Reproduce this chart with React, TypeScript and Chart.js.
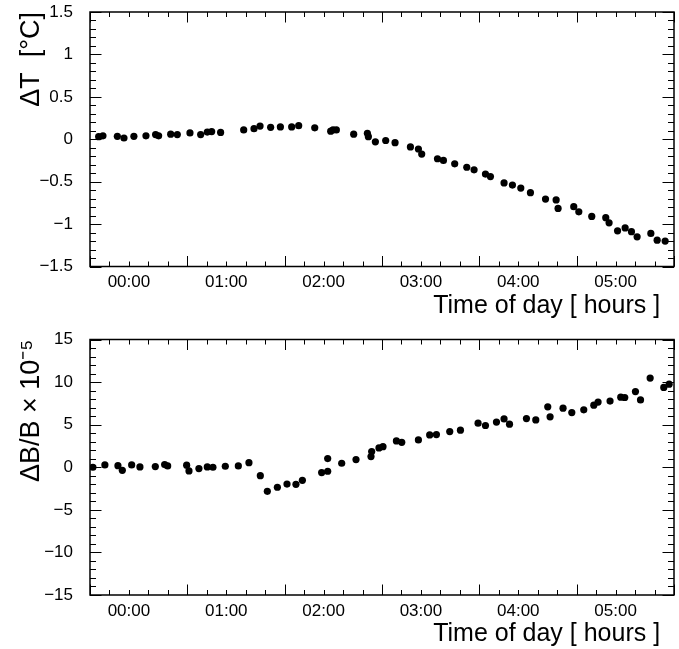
import React, { useEffect, useRef } from "react";
import { Chart, registerables } from "chart.js";

Chart.register(...registerables);

// ---------- data ----------
const tempHours = [-0.311, -0.267, -0.119, -0.051, 0.051, 0.175, 0.274, 0.305, 0.429, 0.497, 0.627, 0.737, 0.805, 0.85, 0.942, 1.179, 1.285, 1.347, 1.456, 1.556, 1.672, 1.744, 1.909, 2.073, 2.097, 2.131, 2.309, 2.45, 2.46, 2.532, 2.638, 2.734, 2.892, 2.974, 3.008, 3.17, 3.231, 3.347, 3.471, 3.546, 3.663, 3.714, 3.854, 3.94, 4.026, 4.125, 4.28, 4.389, 4.409, 4.57, 4.622, 4.755, 4.899, 4.933, 5.02, 5.098, 5.163, 5.221, 5.362, 5.427, 5.509];
const deltaT = [0.03, 0.04, 0.035, 0.015, 0.035, 0.04, 0.055, 0.04, 0.06, 0.055, 0.075, 0.055, 0.085, 0.09, 0.08, 0.11, 0.125, 0.155, 0.14, 0.145, 0.145, 0.16, 0.135, 0.095, 0.11, 0.11, 0.06, 0.07, 0.03, -0.03, -0.015, -0.04, -0.09, -0.115, -0.175, -0.23, -0.25, -0.29, -0.33, -0.36, -0.41, -0.44, -0.515, -0.54, -0.575, -0.63, -0.705, -0.715, -0.815, -0.795, -0.855, -0.91, -0.925, -0.985, -1.08, -1.045, -1.09, -1.15, -1.11, -1.19, -1.2];

const fieldHours = [-0.37, -0.247, -0.113, -0.068, 0.028, 0.113, 0.271, 0.367, 0.398, 0.593, 0.617, 0.719, 0.805, 0.863, 0.99, 1.124, 1.233, 1.35, 1.422, 1.525, 1.624, 1.716, 1.782, 1.98, 2.042, 2.042, 2.186, 2.333, 2.487, 2.494, 2.569, 2.61, 2.748, 2.803, 2.974, 3.09, 3.159, 3.296, 3.406, 3.587, 3.663, 3.776, 3.854, 3.91, 4.084, 4.18, 4.303, 4.327, 4.46, 4.55, 4.673, 4.776, 4.82, 4.943, 5.053, 5.094, 5.204, 5.256, 5.355, 5.495, 5.55];
const deltaB = [0, 0.27, 0.19, -0.36, 0.27, 0.04, 0.08, 0.31, 0.16, 0.24, -0.43, -0.16, 0.04, 0, 0.12, 0.16, 0.54, -0.99, -2.83, -2.35, -1.97, -2.0, -1.53, -0.63, -0.47, 1.02, 0.47, 0.9, 1.25, 1.84, 2.27, 2.42, 3.09, 2.93, 3.21, 3.8, 3.84, 4.19, 4.35, 5.18, 4.9, 5.3, 5.68, 5.06, 5.72, 5.56, 7.09, 5.92, 6.94, 6.42, 6.74, 7.29, 7.65, 7.77, 8.23, 8.19, 8.89, 7.91, 10.47, 9.37, 9.76];

const timeLabels = ["00:00", "01:00", "02:00", "03:00", "04:00", "05:00"];
const tempTickLabels = ["\u22121.5", "\u22121", "\u22120.5", "0", "0.5", "1", "1.5"];
const fieldTickLabels = ["\u221215", "\u221210", "\u22125", "0", "5", "10", "15"];

const xMin = -0.4;
const xMax = 5.6;
const xStep = 0.2;
const xMajorOffset = 0.6;

const FONT = "'Liberation Sans', Arial, Helvetica, sans-serif";

const isMajorX = (v: number) => {
  const r = (((v - xMajorOffset) % 1) + 1) % 1;
  return r < 1e-4 || r > 1 - 1e-4;
};

const frameTicks = {
  id: "frameTicks",
  beforeDatasetsDraw(chart: any) {
    const { ctx, chartArea } = chart;
    const { left, right, top, bottom } = chartArea;
    const xs = chart.scales.x;
    const ys = chart.scales.y;
    ctx.save();
    ctx.strokeStyle = "#000";
    ctx.lineWidth = 1;
    ctx.beginPath();
    xs.ticks.forEach((t: any) => {
      const px = Math.round(xs.getPixelForValue(t.value)) + 0.5;
      const len = isMajorX(t.value) ? 10.5 : 5;
      ctx.moveTo(px, bottom);
      ctx.lineTo(px, bottom - len);
      ctx.moveTo(px, top);
      ctx.lineTo(px, top + len);
    });
    ys.ticks.forEach((t: any) => {
      const py = Math.round(ys.getPixelForValue(t.value)) + 0.5;
      const major = t.label !== "" && t.label !== undefined;
      const len = major ? 11.5 : 6;
      ctx.moveTo(left, py);
      ctx.lineTo(left + len, py);
      ctx.moveTo(right, py);
      ctx.lineTo(right - len, py);
    });
    ctx.stroke();
    ctx.lineWidth = 1.5;
    ctx.strokeRect(left, top, right - left, bottom - top);
    ctx.restore();
  },
};

type PanelProps = {
  top: number;
  height: number;
  padTop: number;
  xAxisHeight: number;
  xs: number[];
  ys: number[];
  yMin: number;
  yMax: number;
  yStep: number;
  yMajorStep: number;
  yLabels: string[];
  yTitle: string;
  xTitlePad: number;
};

function Panel(p: PanelProps) {
  const ref = useRef<HTMLCanvasElement | null>(null);
  useEffect(() => {
    if (!ref.current) return;
    const points = p.xs.map((x, i) => ({ x, y: p.ys[i] }));
    const chart = new Chart(ref.current, {
      type: "scatter",
      data: {
        datasets: [
          {
            data: points,
            pointRadius: 3.6,
            pointBackgroundColor: "#000",
            pointBorderWidth: 0,
            showLine: false,
          },
        ],
      },
      plugins: [frameTicks],
      options: {
        animation: false,
        responsive: false,
        devicePixelRatio: 1,
        layout: { autoPadding: false, padding: { top: p.padTop, right: 5, left: 0, bottom: 0 } },
        plugins: { legend: { display: false }, tooltip: { enabled: false } },
        scales: {
          x: {
            type: "linear",
            min: xMin,
            max: xMax,
            grid: { display: false, drawTicks: false },
            border: { display: false },
            afterFit: (s: any) => {
              s.height = p.xAxisHeight;
              s.paddingLeft = 0;
              s.paddingRight = 0;
              s.paddingTop = 0;
              s.paddingBottom = 0;
            },
            ticks: {
              stepSize: xStep,
              autoSkip: false,
              maxRotation: 0,
              minRotation: 0,
              padding: 6,
              color: "#000",
              font: { family: FONT, size: 17 },
              callback: (v: any) => {
                const r = Math.round(Number(v) * 5) / 5;
                if (Math.abs(r - Math.round(r)) < 1e-6) {
                  const idx = Math.round(r);
                  return idx >= 0 && idx < timeLabels.length ? timeLabels[idx] : "";
                }
                return "";
              },
            },
            title: {
              display: true,
              text: "Time of day [ hours ]  ",
              align: "end",
              color: "#000",
              font: { family: FONT, size: 25 },
              padding: { top: 0, bottom: p.xTitlePad },
            },
          },
          y: {
            type: "linear",
            min: p.yMin,
            max: p.yMax,
            grid: { display: false, drawTicks: false },
            border: { display: false },
            afterFit: (s: any) => {
              s.width = 90;
              s.paddingLeft = 0;
              s.paddingRight = 0;
              s.paddingTop = 0;
              s.paddingBottom = 0;
            },
            ticks: {
              stepSize: p.yStep,
              autoSkip: false,
              padding: 17,
              color: "#000",
              font: { family: FONT, size: 17 },
              callback: (v: any) => {
                const k = Math.round(Number(v) / p.yStep);
                const per = Math.round(p.yMajorStep / p.yStep);
                if (k % per === 0) {
                  const idx = Math.round(Number(v) / p.yMajorStep) + Math.round(-p.yMin / p.yMajorStep);
                  return p.yLabels[idx] ?? "";
                }
                return "";
              },
            },
            title: {
              display: true,
              text: p.yTitle,
              align: "end",
              color: "#000",
              font: { family: FONT, size: 27 },
              padding: { top: 15, bottom: 0 },
            },
          },
        },
      } as any,
    });
    return () => chart.destroy();
  }, []);
  return (
    <canvas
      ref={ref}
      width={679}
      height={p.height}
      style={{ position: "absolute", left: 0, top: p.top, width: 679, height: p.height, display: "block" }}
    />
  );
}

export default function App() {
  return (
    <div style={{ position: "absolute", left: 0, top: 0, width: 679, height: 649, background: "#fff" }}>
      <Panel
        top={0}
        height={325}
        padTop={12}
        xAxisHeight={58.5}
        xs={tempHours}
        ys={deltaT}
        yMin={-1.5}
        yMax={1.5}
        yStep={0.1}
        yMajorStep={0.5}
        yLabels={tempTickLabels}
        yTitle={"\u0394T  [\u00B0C]"}
        xTitlePad={4}
      />
      <Panel
        top={325}
        height={324}
        padTop={14.5}
        xAxisHeight={54}
        xs={fieldHours}
        ys={deltaB}
        yMin={-15}
        yMax={15}
        yStep={1}
        yMajorStep={5}
        yLabels={fieldTickLabels}
        yTitle={"\u0394B/B \u00D7 10\u207B\u2075"}
        xTitlePad={0}
      />
    </div>
  );
}
